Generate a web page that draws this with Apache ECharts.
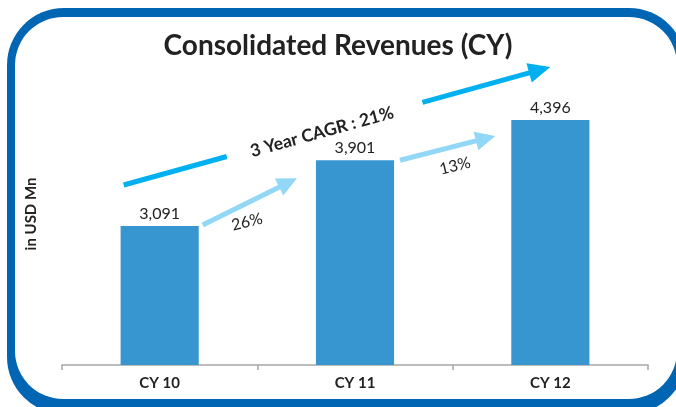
<!DOCTYPE html>
<html><head><meta charset="utf-8">
<script src="https://cdn.jsdelivr.net/npm/echarts@6/dist/echarts.min.js"></script>
<style>html,body{margin:0;padding:0;background:#fff}#c{width:676px;height:407px}</style>
</head><body><div id="c"></div>
<script>
const categories = ['CY 10', 'CY 11', 'CY 12'];
const revenues = [3091, 3901, 4396];
const growthLabels = ['26%', '13%'];
const cagrLabel = '3 Year CAGR : 21%';
const titleText = 'Consolidated Revenues (CY)';
const yAxisName = 'in USD Mn';

const FONT = 'Lato, "Open Sans", sans-serif';
const TXT = '#222222';
const chart = echarts.init(document.getElementById('c'), null, {renderer: 'canvas'});
chart.setOption({
  animation: false,
  title: {text: titleText, left: 'center', top: 27,
    textStyle: {fontFamily: FONT, fontSize: 28, fontWeight: 'bold', color: TXT}},
  grid: {left: 62, right: 28, top: 120, bottom: 42},
  xAxis: {type: 'category', data: categories,
    axisLine: {lineStyle: {color: '#a6a6a6', width: 1.5}},
    axisTick: {show: true, length: 5, lineStyle: {color: '#a6a6a6', width: 1.5}},
    axisLabel: {fontFamily: FONT, fontWeight: 'bold', fontSize: 15, color: TXT, margin: 11}},
  yAxis: {type: 'value', min: 1380, max: 4396, show: false},
  series: [{type: 'bar', data: revenues, barWidth: '40%', z: 5,
    itemStyle: {color: '#3796cf'},
    label: {show: true, position: 'top', distance: 4,
      formatter: p => p.value.toLocaleString('en-US'),
      fontFamily: FONT, fontSize: 16, color: TXT}}]
});

const pts = revenues.map((v, i) => chart.convertToPixel({seriesIndex: 0}, [i, v]));

function arrowParts(x1, y1, x2, y2, color, w, hl, hw, gapFrom, gapTo) {
  const dx = x2 - x1, dy = y2 - y1, L = Math.hypot(dx, dy);
  const ux = dx / L, uy = dy / L, px = -uy, py = ux;
  const bx = x2 - ux * hl, by = y2 - uy * hl;
  const out = [];
  const segs = gapFrom != null ? [[0, gapFrom], [gapTo, L - hl + 1]] : [[0, L - hl + 1]];
  segs.forEach(s => out.push({type: 'line', z: 50,
    shape: {x1: x1 + ux * s[0], y1: y1 + uy * s[0], x2: x1 + ux * s[1], y2: y1 + uy * s[1]},
    style: {stroke: color, lineWidth: w}}));
  out.push({type: 'polygon', z: 50,
    shape: {points: [[x2, y2], [bx + px * hw / 2, by + py * hw / 2], [bx - px * hw / 2, by - py * hw / 2]]},
    style: {fill: color}});
  return out;
}

const g = [];
// rounded frame
g.push({type: 'rect', z: -10, silent: true, shape: {x: 7, y: 8, width: 679, height: 406, r: 57}, style: {fill: '#0066b3'}});
g.push({type: 'rect', z: -9, silent: true, shape: {x: 15, y: 17, width: 662, height: 382, r: 48}, style: {fill: '#ffffff'}});

// CAGR arrow
const cs = [pts[0][0] - 36, pts[0][1] - 41], ce = [pts[2][0], pts[2][1] - 53];
g.push(...arrowParts(cs[0], cs[1], ce[0], ce[1], '#00b0f0', 5, 22, 20, 107, 310));
const ang = Math.atan2(-(ce[1] - cs[1]), ce[0] - cs[0]);
g.push({type: 'text', z: 60, x: 322, y: 132, rotation: ang,
  style: {text: cagrLabel, fontFamily: FONT, fontSize: 17.5, fontWeight: 'bold', fill: TXT, textAlign: 'center', textVerticalAlign: 'middle'}});

// growth arrows
const a1s = [pts[0][0] + 43, pts[0][1] - 1], a1e = [pts[1][0] - 58, pts[1][1] + 18];
const a2s = [pts[1][0] + 45, pts[1][1]], a2e = [pts[2][0] - 55, pts[2][1] + 16];
g.push(...arrowParts(a1s[0], a1s[1], a1e[0], a1e[1], '#92d8f6', 5, 20, 19));
g.push(...arrowParts(a2s[0], a2s[1], a2e[0], a2e[1], '#92d8f6', 5, 20, 19));
g.push({type: 'text', z: 60, x: 247, y: 222, rotation: 0.24,
  style: {text: growthLabels[0], fontFamily: FONT, fontSize: 16, fill: TXT, textAlign: 'center', textVerticalAlign: 'middle'}});
g.push({type: 'text', z: 60, x: 455, y: 166, rotation: 0.24,
  style: {text: growthLabels[1], fontFamily: FONT, fontSize: 16, fill: TXT, textAlign: 'center', textVerticalAlign: 'middle'}});

// y axis name
g.push({type: 'text', z: 60, x: 31, y: 214, rotation: Math.PI / 2,
  style: {text: yAxisName, fontFamily: FONT, fontSize: 15, fontWeight: 'bold', fill: TXT, textAlign: 'center', textVerticalAlign: 'middle'}});

chart.setOption({graphic: g});
</script>
</body></html>
